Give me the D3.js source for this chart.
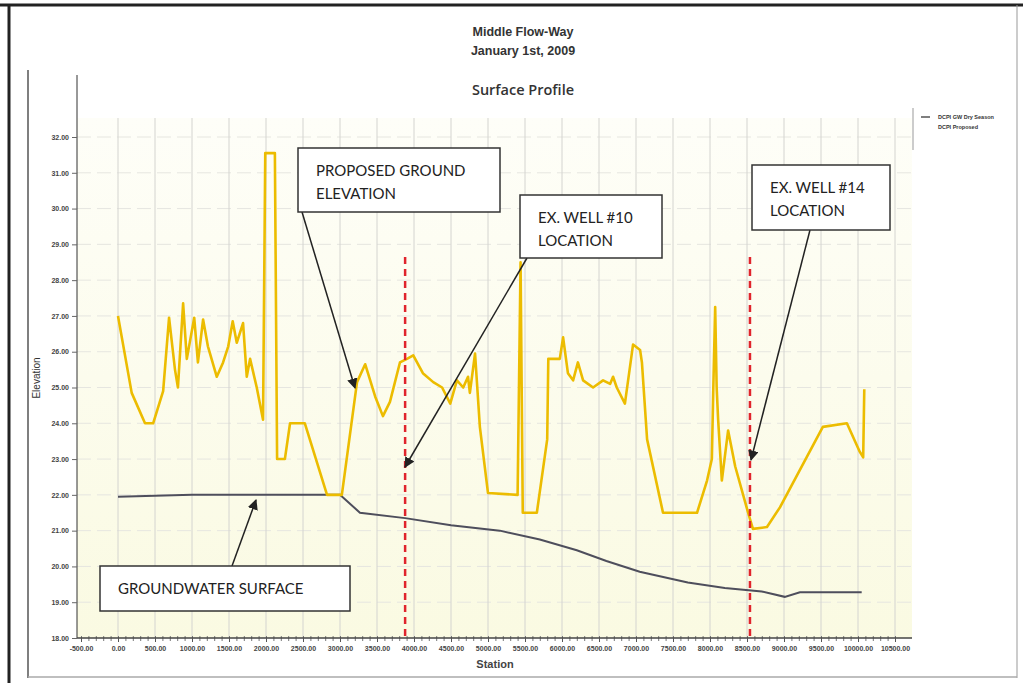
<!DOCTYPE html>
<html>
<head>
<meta charset="utf-8">
<script src="https://cdn.jsdelivr.net/npm/d3@7"></script>
<style>
  body { margin: 0; background: #fff; }
</style>
</head>
<body>
<div class="canvas"></div>
<script>
// what to show
var proposedStation = [0, 185, 365, 475, 610, 690, 770, 810, 880, 930, 1030, 1080, 1150, 1215, 1335, 1420, 1490, 1550, 1605, 1690, 1740, 1785, 1875, 1960, 1990, 2120, 2150, 2255, 2325, 2525, 2825, 3025, 3230, 3340, 3475, 3580, 3675, 3810, 3905, 3990, 4120, 4260, 4380, 4490, 4580, 4665, 4730, 4755, 4825, 4890, 5000, 5400, 5440, 5470, 5660, 5800, 5815, 5970, 6015, 6080, 6150, 6215, 6285, 6420, 6555, 6650, 6690, 6740, 6850, 6960, 7055, 7080, 7150, 7365, 7825, 7960, 8025, 8045, 8070, 8090, 8110, 8160, 8245, 8340, 8515, 8580, 8770, 8945, 9525, 9850, 10025, 10070, 10085];
var proposedElev = [27.0, 24.85, 24.0, 24.0, 24.9, 26.95, 25.5, 25.0, 27.35, 25.8, 26.95, 25.7, 26.9, 26.15, 25.3, 25.7, 26.15, 26.85, 26.25, 26.8, 25.3, 25.8, 25.0, 24.1, 31.55, 31.55, 23.0, 23.0, 24.0, 24.0, 22.0, 22.0, 25.15, 25.65, 24.75, 24.2, 24.6, 25.7, 25.8, 25.9, 25.4, 25.15, 25.0, 24.55, 25.2, 25.0, 25.3, 24.85, 25.95, 23.9, 22.05, 22.0, 28.5, 21.5, 21.5, 23.55, 25.8, 25.8, 26.4, 25.4, 25.2, 25.7, 25.2, 25.0, 25.2, 25.1, 25.3, 25.0, 24.55, 26.2, 26.05, 25.7, 23.55, 21.5, 21.5, 22.4, 23.0, 25.0, 27.25, 25.0, 24.1, 22.4, 23.8, 22.8, 21.5, 21.05, 21.1, 21.65, 23.9, 24.0, 23.2, 23.05, 24.95];

var gwStation = [0, 1000, 2000, 3000, 3270, 3880, 4500, 5160, 5700, 6200, 6600, 7050, 7700, 8200, 8700, 9010, 9215, 10050];
var gwElev = [21.95, 22.0, 22.0, 22.0, 21.5, 21.35, 21.15, 21.0, 20.75, 20.45, 20.15, 19.85, 19.55, 19.4, 19.3, 19.15, 19.28, 19.28];

var wellNames = ['EX. WELL #10', 'EX. WELL #14'];
var wellStation = [3880, 8540];
var wellTopElev = 28.65;

var xTicks = d3.range(-500, 10501, 500);
var yTicks = d3.range(18, 32.1, 1);

var titleLines = ['Middle Flow-Way', 'January 1st, 2009'];
var chartTitle = 'Surface Profile';
var legendLabels = ['DCPI GW Dry Season', 'DCPI Proposed'];

// where does it live
var width = 1023,
    height = 683,
    plot = { left: 77, right: 912, top: 118, bottom: 638 };

var x = d3.scaleLinear().domain([-500, 10500]).range([81, 895]),
    y = d3.scaleLinear().domain([18, 32]).range([638, 137]);

var svg = d3.select('.canvas').append('svg')
    .attr('width', width)
    .attr('height', height)
    .style('font-family', 'Arial, "Liberation Sans", sans-serif');

// scanned page frame
svg.append('line').attr('x1', 0).attr('x2', width).attr('y1', 5).attr('y2', 5)
    .attr('stroke', '#222').attr('stroke-width', 3);
svg.append('line').attr('x1', 9).attr('x2', 9).attr('y1', 5).attr('y2', height)
    .attr('stroke', '#222').attr('stroke-width', 3);
svg.append('line').attr('x1', 28).attr('x2', 28).attr('y1', 70).attr('y2', 678)
    .attr('stroke', '#555').attr('stroke-width', 1.5);
svg.append('line').attr('x1', 1017).attr('x2', 1017).attr('y1', 5).attr('y2', 678)
    .attr('stroke', '#999').attr('stroke-width', 1);
svg.append('line').attr('x1', 28).attr('x2', 1017).attr('y1', 677).attr('y2', 677)
    .attr('stroke', '#aaa').attr('stroke-width', 1.5);

// titles
svg.selectAll('.title')
    .data(titleLines)
    .enter()
    .append('text')
    .attr('x', 523)
    .attr('y', function (d, i) { return 36 + i * 19; })
    .attr('text-anchor', 'middle')
    .attr('font-size', 12.5)
    .attr('font-weight', 'bold')
    .attr('fill', '#333')
    .text(function (d) { return d; });

svg.append('text')
    .attr('x', 523).attr('y', 95)
    .attr('text-anchor', 'middle')
    .attr('font-family', '"Open Sans", sans-serif')
    .attr('font-size', 14.5)
    .attr('font-weight', 600)
    .attr('fill', '#333')
    .text(chartTitle);

// plot background, paler near the top like the scan
var grad = svg.append('defs').append('linearGradient')
    .attr('id', 'bg')
    .attr('x1', 0).attr('x2', 0).attr('y1', 0).attr('y2', 1);
grad.append('stop').attr('offset', '0%').attr('stop-color', '#fefef8');
grad.append('stop').attr('offset', '100%').attr('stop-color', '#fafae2');

svg.append('rect')
    .attr('x', plot.left).attr('y', plot.top)
    .attr('width', plot.right - plot.left)
    .attr('height', plot.bottom - plot.top)
    .attr('fill', 'url(#bg)');

// grid
svg.selectAll('.hgrid')
    .data(yTicks.slice(1))
    .enter()
    .append('line')
    .attr('x1', plot.left).attr('x2', plot.right)
    .attr('y1', function (d) { return y(d); })
    .attr('y2', function (d) { return y(d); })
    .attr('stroke', '#e6e6e0')
    .attr('stroke-dasharray', '14,6');

svg.selectAll('.vgrid')
    .data(xTicks.slice(1))
    .enter()
    .append('line')
    .attr('x1', function (d) { return x(d); })
    .attr('x2', function (d) { return x(d); })
    .attr('y1', plot.top).attr('y2', plot.bottom)
    .attr('stroke', '#d4d4d0')
    .attr('stroke-width', 1);

// axes
var yAxis = svg.append('g')
    .attr('transform', 'translate(' + plot.left + ',0)')
    .call(d3.axisLeft(y).tickValues(yTicks).tickSize(5)
        .tickFormat(function (d) { return d.toFixed(2); }));
yAxis.select('.domain').attr('d', 'M0,75V' + plot.bottom).attr('stroke', '#333');
yAxis.selectAll('text').attr('font-size', 7).attr('fill', '#444').attr('font-weight', 'bold');
yAxis.selectAll('line').attr('stroke', '#666');

var xMinor = svg.append('g')
    .attr('transform', 'translate(0,' + plot.bottom + ')')
    .call(d3.axisBottom(x).tickValues(d3.range(-500, 10501, 100)).tickSize(3).tickFormat(''));
xMinor.select('.domain').remove();
xMinor.selectAll('line').attr('stroke', '#777').attr('y1', -2);

var xAxis = svg.append('g')
    .attr('transform', 'translate(0,' + plot.bottom + ')')
    .call(d3.axisBottom(x).tickValues(xTicks).tickSize(4)
        .tickFormat(function (d) { return d.toFixed(2); }));
xAxis.select('.domain').attr('d', 'M' + plot.left + ',0H' + plot.right).attr('stroke', '#444').attr('stroke-width', 1.5);
xAxis.selectAll('text').attr('font-size', 7).attr('fill', '#444').attr('font-weight', 'bold').attr('dy', '0.9em');
xAxis.selectAll('line').attr('stroke', '#555');

svg.append('text')
    .attr('transform', 'translate(40,378) rotate(-90)')
    .attr('text-anchor', 'middle')
    .attr('font-size', 10)
    .attr('fill', '#333')
    .text('Elevation');

svg.append('text')
    .attr('x', 495).attr('y', 668)
    .attr('text-anchor', 'middle')
    .attr('font-size', 11)
    .attr('font-weight', 'bold')
    .attr('fill', '#444')
    .text('Station');

// legend
svg.append('line').attr('x1', 913).attr('x2', 913).attr('y1', 108).attr('y2', 150)
    .attr('stroke', '#999');
svg.append('line').attr('x1', 921).attr('x2', 930).attr('y1', 117).attr('y2', 117)
    .attr('stroke', '#555').attr('stroke-width', 1.5);
svg.selectAll('.leg')
    .data(legendLabels)
    .enter()
    .append('text')
    .attr('x', 938)
    .attr('y', function (d, i) { return 119 + i * 10; })
    .attr('font-size', 5.5)
    .attr('font-weight', 'bold')
    .attr('fill', '#333')
    .text(function (d) { return d; });

// groundwater line
var gwData = gwStation.map(function (s, i) { return [s, gwElev[i]]; });
var propData = proposedStation.map(function (s, i) { return [s, proposedElev[i]]; });

var line = d3.line()
    .x(function (d) { return x(d[0]); })
    .y(function (d) { return y(d[1]); });

svg.append('path')
    .datum(gwData)
    .attr('d', line)
    .attr('fill', 'none')
    .attr('stroke', '#4e4e5c')
    .attr('stroke-width', 2);

svg.append('path')
    .datum(propData)
    .attr('d', line)
    .attr('fill', 'none')
    .attr('stroke', '#ecbc00')
    .attr('stroke-width', 2.6)
    .attr('stroke-linejoin', 'round');

// well locations
svg.selectAll('.well')
    .data(wellStation)
    .enter()
    .append('line')
    .attr('x1', function (d) { return x(d); })
    .attr('x2', function (d) { return x(d); })
    .attr('y1', y(wellTopElev))
    .attr('y2', y(18))
    .attr('stroke', '#e0242c')
    .attr('stroke-width', 2.5)
    .attr('stroke-dasharray', '7,5');

// annotations
svg.select('defs').append('marker')
    .attr('id', 'arrow')
    .attr('viewBox', '0 0 10 10')
    .attr('refX', 9).attr('refY', 5)
    .attr('markerWidth', 7).attr('markerHeight', 7)
    .attr('orient', 'auto')
    .append('path')
    .attr('d', 'M0,0L10,5L0,10z')
    .attr('fill', '#222');

var notes = [
    { box: [298, 148, 202, 64], lines: ['PROPOSED GROUND', 'ELEVATION'], from: [302, 212], to: [355, 388] },
    { box: [520, 195, 142, 63], lines: [wellNames[0], 'LOCATION'], from: [527, 258], to: [405, 467] },
    { box: [752, 165, 138, 65], lines: [wellNames[1], 'LOCATION'], from: [810, 230], to: [751, 460] },
    { box: [100, 566, 250, 45], lines: ['GROUNDWATER SURFACE'], from: [232, 566], to: [256, 500] }
];

notes.forEach(function (n) {
    svg.append('line')
        .attr('x1', n.from[0]).attr('y1', n.from[1])
        .attr('x2', n.to[0]).attr('y2', n.to[1])
        .attr('stroke', '#222')
        .attr('stroke-width', 1.5)
        .attr('marker-end', 'url(#arrow)');
    svg.append('rect')
        .attr('x', n.box[0]).attr('y', n.box[1])
        .attr('width', n.box[2]).attr('height', n.box[3])
        .attr('fill', '#fff')
        .attr('stroke', '#333')
        .attr('stroke-width', 1.5);
    n.lines.forEach(function (t, i) {
        svg.append('text')
            .attr('x', n.box[0] + 18)
            .attr('y', n.box[1] + (n.lines.length === 1 ? 28 : 28 + i * 23))
            .attr('font-family', 'Lato, "Open Sans", sans-serif')
            .attr('font-size', 15)
            .attr('fill', '#222')
            .text(t);
    });
});
</script>
</body>
</html>
